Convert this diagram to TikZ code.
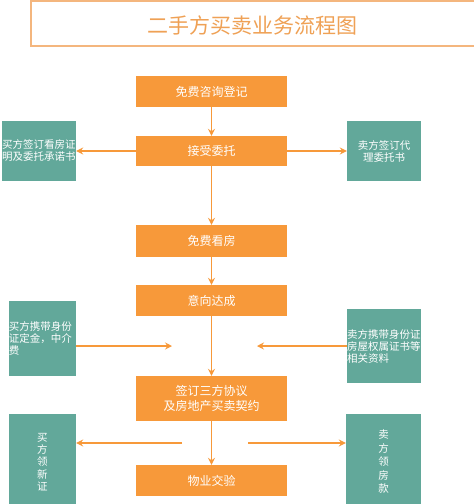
\documentclass[tikz,border=0pt]{standalone}
\usepackage{fontspec}
\setmainfont{Noto Sans CJK SC}
\usetikzlibrary{arrows.meta}
\definecolor{stepfill}{HTML}{F7993A}
\definecolor{sidefill}{HTML}{62A89A}
\definecolor{titletext}{HTML}{EFA155}
\definecolor{titleline}{HTML}{F4B67E}
\tikzset{
  stepbox/.style={fill=stepfill,text=white,minimum width=151pt,inner sep=0pt,
    font=\fontsize{12}{15}\selectfont,align=center},
  sidebox/.style={fill=sidefill,text=white,inner sep=0pt,
    font=\fontsize{10.5}{12}\selectfont},
  flow/.style={stepfill,line width=1.4pt,-{Stealth[length=7pt,width=7pt,inset=2.5pt]}}
}
\begin{document}
\begin{tikzpicture}[x=1pt,y=-1pt]
        \useasboundingbox (0,0) rectangle (474,504);
        \fill[white] (0,0) rectangle (474,504);
        %TITLE
        \draw[titleline,line width=1.5pt] (31,1) rectangle (480,46);
        \node[text=titletext,font=\fontsize{21}{24}\selectfont] (title) at (252.5,25) {二手方买卖业务流程图};

        %MAIN STEPS
        \node[stepbox,minimum height=31pt] (reg) at (211.5,91.5) {免费咨询登记};
        \node[stepbox,minimum height=30pt] (accept) at (211.5,151) {接受委托};
        \node[stepbox,minimum height=32pt] (view) at (211.5,241) {免费看房};
        \node[stepbox,minimum height=31pt] (agree) at (211.5,300.5) {意向达成};
        \node[stepbox,minimum height=45pt] (sign) at (211.5,398.5) {签订三方协议\\及房地产买卖契约};
        \node[stepbox,minimum height=31pt] (handover) at (211.5,480.5) {物业交验};

        %SIDE BOXES
        \node[sidebox,minimum width=74pt,minimum height=60pt,text width=74pt,align=left] (buyerA) at (39,151) {买方签订看房证\\明及委托承诺书};
        \node[sidebox,minimum width=74pt,minimum height=60pt,align=center] (sellerA) at (384,151) {卖方签订代\\理委托书};
        \node[sidebox,minimum width=67pt,minimum height=75pt,text width=67pt,align=left] (buyerB) at (42.5,338.5) {买方携带身份\\证定金，中介\\费};
        \node[sidebox,minimum width=74pt,minimum height=74pt,text width=74pt,align=left] (sellerB) at (384,346) {卖方携带身份证\\房屋权属证书等\\相关资料};
        \node[sidebox,minimum width=67pt,minimum height=96pt,align=center,font=\fontsize{10.5}{12.2}\selectfont] (buyerC) at (42.5,462) {买\\方\\领\\新\\证};
        \node[sidebox,minimum width=75pt,minimum height=96pt,align=center,font=\fontsize{10.5}{13.5}\selectfont] (sellerC) at (383.5,462) {卖\\方\\领\\房\\款};

        %FREE ENDS
        \coordinate (inL) at (172,346);
        \coordinate (inR) at (257,346);
        \coordinate (outL) at (182,443);
        \coordinate (outR) at (248,443);

        %ARROWS
        \draw[flow] (reg) -- (accept);
        \draw[flow] (accept) -- (view);
        \draw[flow] (view) -- (agree);
        \draw[flow] (agree) -- (sign);
        \draw[flow] (sign) -- (handover);
        \draw[flow] (accept) -- (buyerA);
        \draw[flow] (accept) -- (sellerA);
        \draw[flow] (buyerB.east |- inL) -- (inL);
        \draw[flow] (sellerB.west |- inR) -- (inR);
        \draw[flow] (outL) -- (buyerC.east |- outL);
        \draw[flow] (outR) -- (sellerC.west |- outR);
    \end{tikzpicture}
\end{document}
